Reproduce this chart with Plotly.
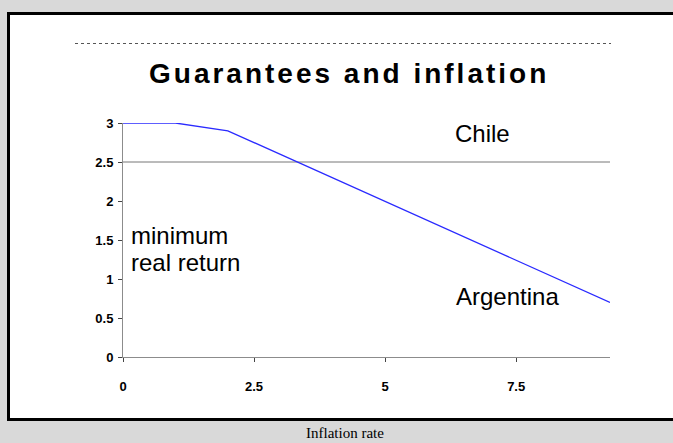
import plotly.graph_objects as go

# Data
inflation = [0, 1, 2, 9.29]
argentina = [3.0, 3.0, 2.9, 0.70]
chile_x = [0, 9.29]
chile = [2.5, 2.5]
x_ticks = [0, 2.5, 5, 7.5]
x_ticktext = ["0", "2.5", "5", "7.5"]
y_ticks = [0, 0.5, 1, 1.5, 2, 2.5, 3]
y_ticktext = ["0", "0.5", "1", "1.5", "2", "2.5", "3"]

W, H = 673, 443
L, R, T, B = 123, 63, 123, 86
PW, PH = W - L - R, H - T - B

def px(x):
    return (x - L) / PW

def py(y):
    return (H - B - y) / PH

fig = go.Figure()
fig.add_trace(go.Scatter(x=chile_x, y=chile, mode="lines",
                         line=dict(color="#777777", width=1), showlegend=False))
fig.add_trace(go.Scatter(x=inflation, y=argentina, mode="lines",
                         line=dict(color="#2a2aff", width=1.3), showlegend=False))

border = dict(color="black", width=3)
shapes = [
    dict(type="rect", xref="paper", yref="paper", x0=px(8.5), x1=px(680), y0=py(13.5), y1=py(419.5),
         fillcolor="white", line=dict(width=0), layer="below"),
    dict(type="line", xref="paper", yref="paper", x0=px(8.5), x1=px(680), y0=py(13.5), y1=py(13.5),
         line=border, layer="below"),
    dict(type="line", xref="paper", yref="paper", x0=px(8.5), x1=px(680), y0=py(419.5), y1=py(419.5),
         line=border, layer="below"),
    dict(type="line", xref="paper", yref="paper", x0=px(8.5), x1=px(8.5), y0=py(12), y1=py(421),
         line=border, layer="below"),
    dict(type="line", xref="paper", yref="paper", x0=px(75), x1=px(611), y0=py(43.5), y1=py(43.5),
         line=dict(color="#555555", width=1, dash="dot"), layer="above"),
]

af = "Arial, Liberation Sans, Helvetica, sans-serif"
lab = dict(family=af, size=24, color="black")
annotations = [
    dict(text="<b><span style='letter-spacing:3px'>Guarantees and inflation</span></b>",
         xref="paper", yref="paper", x=px(349), y=py(73),
         showarrow=False, font=dict(family=af, size=28, color="black"), xanchor="center", yanchor="middle"),
    dict(text="Chile", xref="paper", yref="paper", x=px(482), y=py(133),
         showarrow=False, font=lab, xanchor="center", yanchor="middle"),
    dict(text="minimum", xref="paper", yref="paper", x=px(129), y=py(235),
         showarrow=False, font=lab, xanchor="left", yanchor="middle"),
    dict(text="real return", xref="paper", yref="paper", x=px(129), y=py(262),
         showarrow=False, font=lab, xanchor="left", yanchor="middle"),
    dict(text="Argentina", xref="paper", yref="paper", x=px(507), y=py(296),
         showarrow=False, font=lab, xanchor="center", yanchor="middle"),
    dict(text="Inflation rate", xref="paper", yref="paper", x=px(345), y=py(433),
         showarrow=False, font=dict(family="Liberation Serif, Times New Roman, serif", size=15, color="black"),
         xanchor="center", yanchor="middle"),
]

fig.update_layout(
    width=W, height=H,
    margin=dict(l=L, r=R, t=T, b=B),
    paper_bgcolor="#d9d9d9",
    plot_bgcolor="rgba(0,0,0,0)",
    shapes=shapes,
    annotations=annotations,
    showlegend=False,
)
tf = dict(family=af, size=13, color="black", weight="bold")
fig.update_xaxes(range=[0, 9.29], tickmode="array", tickvals=x_ticks, ticktext=x_ticktext,
                 showgrid=False, zeroline=False, showline=True, linecolor="#8c8c8c", linewidth=1,
                 ticks="outside", ticklen=4, tickcolor="#444", tickwidth=1,
                 tickfont=tf, ticklabelstandoff=13)
fig.update_yaxes(range=[0, 3], tickmode="array", tickvals=y_ticks, ticktext=y_ticktext,
                 showgrid=False, zeroline=False, showline=True, linecolor="#8c8c8c", linewidth=1,
                 ticks="outside", ticklen=4, tickcolor="#444", tickwidth=1,
                 tickfont=tf, ticklabelstandoff=2)

fig.write_html("out.html")
